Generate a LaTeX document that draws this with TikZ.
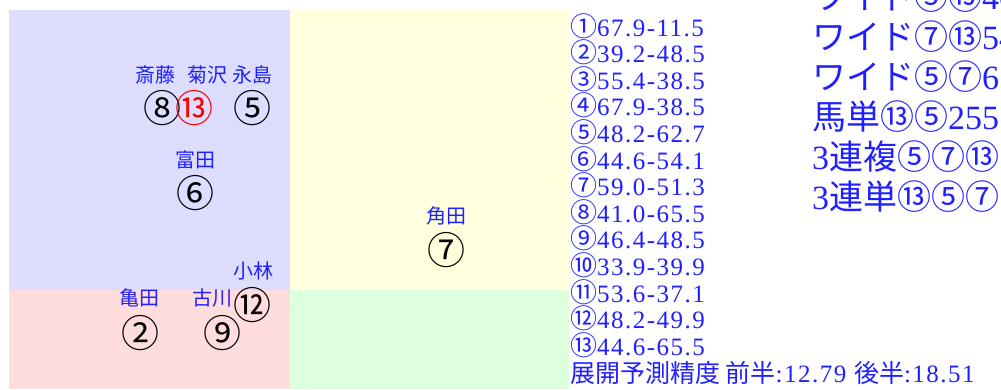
\documentclass[tikz,border=0pt]{standalone}
\usepackage{fontspec}
\setmainfont{Liberation Serif}
\newfontfamily\cjk{Noto Sans CJK JP}
\newfontfamily\lstfont[LetterSpace=6]{Liberation Serif}
\newcommand\jp[1]{{\cjk #1}}
\newcommand\cn[1]{{\cjk\fontsize{27}{27}\selectfont #1}}
\usetikzlibrary{positioning}
\definecolor{zoneblue}{HTML}{DDDDFF}
\definecolor{zonered}{HTML}{FFDDDD}
\definecolor{zoneyellow}{HTML}{FFFFDD}
\definecolor{zonegreen}{HTML}{DDFFDD}
\definecolor{inkblue}{HTML}{2020FF}

\begin{document}
\begin{tikzpicture}[x=1pt, y=-1pt,
    every node/.style={inner sep=0pt, outer sep=0pt},
    jockey/.style={text=inkblue, font=\cjk\fontsize{20}{20}\selectfont},
    horse/.style={font=\cjk\fontsize{38}{38}\selectfont},
    lst/.style={anchor=base west, text=inkblue, font=\lstfont\fontsize{25}{25}\selectfont},
    bet/.style={anchor=west, text=inkblue, font=\fontsize{34}{34}\selectfont}]
    \useasboundingbox (0,0) rectangle (1001,389);

    % Zonen
    \fill[zoneblue] (9,10) rectangle (290,290);
    \fill[zonered] (9,290) rectangle (290,389);
    \fill[zoneyellow] (290,10) rectangle (569,290);
    \fill[zonegreen] (290,290) rectangle (569,389);

    % Pferde links oben
    \node[jockey] (saito) at (155,75) {斎藤};
    \node[jockey] (kikuzawa) at (207,75) {菊沢};
    \node[jockey] (nagashima) at (252,75) {永島};
    \node[horse] (h8) at (162,108) {⑧};
    \node[horse, text=red] (h13) at (194,108) {⑬};
    \node[horse] (h5) at (252,108) {⑤};
    \node[jockey] (tomita) at (195,160) {富田};
    \node[horse] (h6) at (195,193) {⑥};
    \node[jockey] (kobayashi) at (253,271) {小林};
    \node[horse] (h12) at (252,305) {⑫};

    % Pferde links unten
    \node[jockey] (kameda) at (139,298) {亀田};
    \node[horse] (h2) at (140,333) {②};
    \node[jockey] (furukawa) at (212,298) {古川};
    \node[horse] (h9) at (222,333) {⑨};

    % Mitte
    \node[jockey] (sumida) at (446,216) {角田};
    \node[horse] (h7) at (446,250) {⑦};

    % Liste
    \node[lst] (l1) at (570,36) {\cn{①}67.9-11.5};
    \node[lst] (l2) at (570,62.6) {\cn{②}39.2-48.5};
    \node[lst] (l3) at (570,89.2) {\cn{③}55.4-38.5};
    \node[lst] (l4) at (570,115.8) {\cn{④}67.9-38.5};
    \node[lst] (l5) at (570,142.4) {\cn{⑤}48.2-62.7};
    \node[lst] (l6) at (570,169) {\cn{⑥}44.6-54.1};
    \node[lst] (l7) at (570,195.6) {\cn{⑦}59.0-51.3};
    \node[lst] (l8) at (570,222.2) {\cn{⑧}41.0-65.5};
    \node[lst] (l9) at (570,248.8) {\cn{⑨}46.4-48.5};
    \node[lst] (l10) at (570,275.4) {\cn{⑩}33.9-39.9};
    \node[lst] (l11) at (570,302) {\cn{⑪}53.6-37.1};
    \node[lst] (l12) at (570,328.6) {\cn{⑫}48.2-49.9};
    \node[lst] (l13) at (570,355.2) {\cn{⑬}44.6-65.5};
    \node[lst] (summary) at (570,382) {\jp{展開予測精度 前半}:12.79 \jp{後半}:18.51};

    % Tipps
    \node[bet] (b1) at (812,-3) {\jp{ワイド⑤⑬}40};
    \node[bet] (b2) at (812,37) {\jp{ワイド⑦⑬}54};
    \node[bet] (b3) at (812,77) {\jp{ワイド⑤⑦}67};
    \node[bet] (b4) at (812,117) {\jp{馬単⑬⑤}255};
    \node[bet] (b5) at (812,157) {3\jp{連複⑤⑦⑬}};
    \node[bet] (b6) at (812,197) {3\jp{連単⑬⑤⑦}};
\end{tikzpicture}
\end{document}
